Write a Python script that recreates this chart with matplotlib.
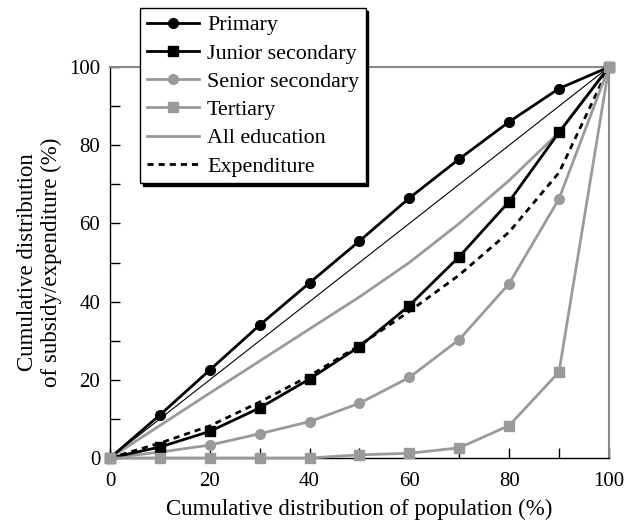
import matplotlib
matplotlib.use("Agg")
import matplotlib.pyplot as plt
import numpy as np

plt.rcParams["font.family"] = ["Liberation Serif", "DejaVu Serif"]

# Data
population = [0, 10, 20, 30, 40, 50, 60, 70, 80, 90, 100]
primary = [0, 11, 22.5, 34, 44.8, 55.5, 66.5, 76.5, 86, 94.5, 100]
junior_secondary = [0, 2.8, 6.8, 12.8, 20.2, 28.5, 39, 51.5, 65.6, 83.3, 100]
senior_secondary = [0, 1.5, 3.3, 6.2, 9.3, 14, 20.6, 30.3, 44.6, 66.3, 100]
tertiary = [0, 0, 0, 0, 0, 0.8, 1.2, 2.6, 8.3, 22, 100]
all_education = [0, 8.3, 16.6, 24.8, 33, 41.2, 50, 60, 71, 83.3, 100]
expenditure = [0, 3.8, 8.2, 14.3, 21, 28.8, 37.5, 46.8, 57.8, 73, 100]

BLACK = "black"
GREY = "#9a9a9a"

fig = plt.figure(figsize=(6.26, 5.24), dpi=100)
ax = fig.add_axes([0.1757, 0.126, 0.797, 0.746])

# line of equality
ax.plot([0, 100], [0, 100], color=BLACK, lw=0.8, zorder=2)

ax.plot(population, all_education, color=GREY, lw=2, label="All education", zorder=3)
ax.plot(population, expenditure, color=BLACK, lw=2, ls=(0, (2.2, 1.8)),
        label="Expenditure", zorder=3)
ax.plot(population, senior_secondary, color=GREY, lw=2, marker="o", ms=7,
        label="Senior secondary", zorder=4, clip_on=False)
ax.plot(population, junior_secondary, color=BLACK, lw=2, marker="s", ms=7.5,
        label="Junior secondary", zorder=5, clip_on=False)
ax.plot(population, primary, color=BLACK, lw=2, marker="o", ms=7,
        label="Primary", zorder=5, clip_on=False)
ax.plot(population, tertiary, color=GREY, lw=2, marker="s", ms=7.5,
        label="Tertiary", zorder=6, clip_on=False)

ax.set_xlim(0, 100)
ax.set_ylim(0, 100)
ax.set_xticks(range(0, 101, 20))
ax.set_yticks(range(0, 101, 20))
ax.set_xticks(range(10, 100, 20), minor=True)
ax.set_yticks(range(10, 100, 20), minor=True)
ax.tick_params(which="both", direction="in", length=7, width=1,
               top=False, right=False, labelsize=15)
ax.tick_params(axis="x", which="major", pad=10)
ax.tick_params(axis="y", which="major", pad=7)

for side in ["left", "bottom"]:
    ax.spines[side].set_color(BLACK)
    ax.spines[side].set_linewidth(1)
for side in ["top", "right"]:
    ax.spines[side].set_color("#888888")
    ax.spines[side].set_linewidth(1.5)

ax.set_xlabel("Cumulative distribution of population (%)", fontsize=16.5, labelpad=6)
ax.set_ylabel("Cumulative distribution\nof subsidy/expenditure (%)", fontsize=16.5,
              labelpad=5, linespacing=1.2)

handles, labels = ax.get_legend_handles_labels()
order = ["Primary", "Junior secondary", "Senior secondary", "Tertiary",
         "All education", "Expenditure"]
hmap = dict(zip(labels, handles))
leg = ax.legend([hmap[k] for k in order], order, loc="upper left",
                bbox_to_anchor=(0.06, 1.15), fontsize=15.8, frameon=True,
                fancybox=False, shadow={"color": "black", "alpha": 1},
                edgecolor="black", handlelength=2.4, borderpad=0.3,
                labelspacing=0.36, handletextpad=0.35, borderaxespad=0)
leg.get_frame().set_linewidth(1)
leg.set_zorder(10)

fig.savefig("out.png", dpi=100)
